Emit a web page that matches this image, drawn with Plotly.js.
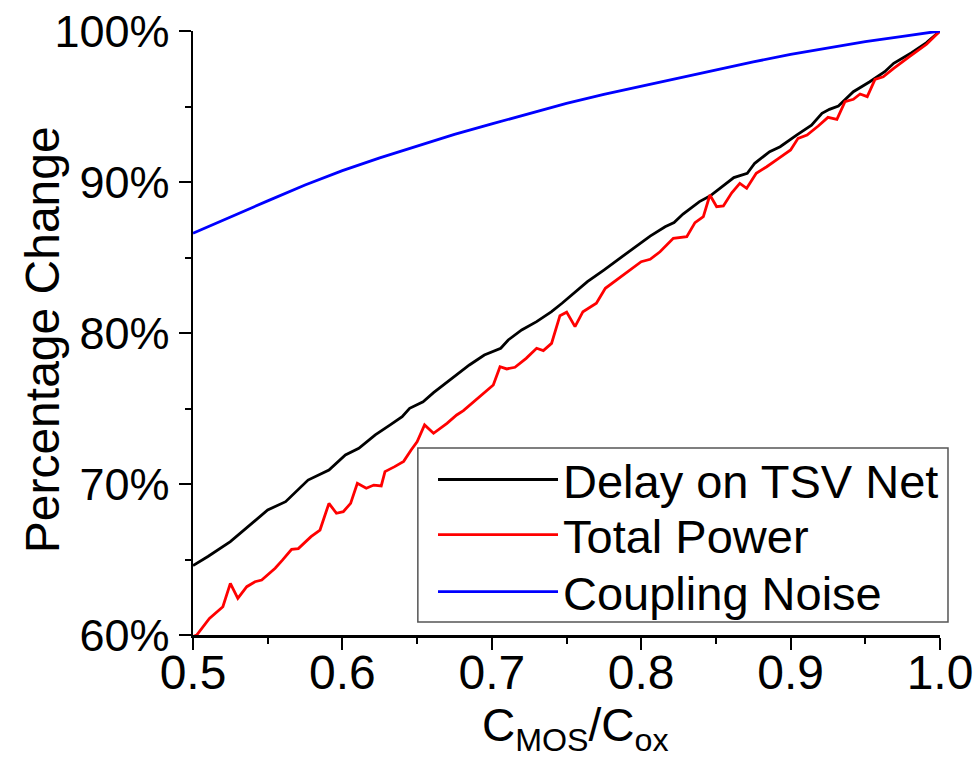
<!DOCTYPE html>
<html>
<head>
<meta charset="utf-8">
<script src="https://cdn.plot.ly/plotly-3.0.1.min.js"></script>
<style>html,body{margin:0;padding:0;background:#fff;}#chart{width:980px;height:767px;}</style>
</head>
<body>
<div id="chart"></div>
<script>
// Delay on TSV Net
var delayX = [0.500,0.510,0.525,0.550,0.562,0.577,0.591,0.602,0.611,0.622,0.632,0.640,0.645,0.654,0.661,0.672,0.685,0.695,0.706,0.711,0.720,0.730,0.740,0.747,0.755,0.764,0.775,0.786,0.795,0.806,0.816,0.822,0.828,0.839,0.846,0.855,0.862,0.871,0.876,0.886,0.893,0.904,0.914,0.921,0.926,0.932,0.942,0.953,0.963,0.969,0.981,0.991,1.000];
var delayY = [64.6,65.2,66.18,68.28,68.83,70.26,70.93,71.92,72.36,73.25,73.91,74.46,75.01,75.45,76.05,76.89,77.88,78.54,78.99,79.54,80.2,80.75,81.41,81.97,82.63,83.4,84.17,84.95,85.61,86.42,87.04,87.31,87.88,88.7,89.07,89.74,90.29,90.58,91.24,92.01,92.34,93.11,93.77,94.55,94.81,95.03,95.98,96.64,97.3,97.86,98.56,99.23,100];
// Total Power
var powerX = [0.500,0.5025,0.511,0.520,0.525,0.530,0.536,0.5415,0.546,0.555,0.560,0.566,0.5705,0.579,0.585,0.591,0.596,0.6006,0.6055,0.610,0.616,0.621,0.626,0.6285,0.635,0.641,0.646,0.650,0.655,0.661,0.670,0.6765,0.681,0.6865,0.694,0.701,0.7055,0.710,0.7155,0.723,0.730,0.7345,0.740,0.7456,0.7501,0.7557,0.761,0.770,0.776,0.781,0.790,0.800,0.806,0.8126,0.8215,0.8305,0.836,0.8416,0.846,0.8505,0.855,0.8606,0.866,0.8706,0.877,0.884,0.892,0.900,0.905,0.911,0.9185,0.925,0.931,0.9364,0.942,0.9465,0.9513,0.9565,0.962,0.969,0.980,0.991,1.000];
var powerY = [59.9,60.0,61.1,61.87,63.42,62.43,63.2,63.53,63.64,64.42,64.97,65.67,65.72,66.51,66.95,68.72,68.06,68.17,68.72,70.05,69.72,69.93,69.87,70.82,71.15,71.5,72.25,72.8,73.91,73.36,74.02,74.57,74.86,75.34,76.01,76.56,77.77,77.62,77.73,78.32,78.99,78.83,79.31,81.15,81.38,80.42,81.41,81.97,82.96,83.33,83.95,84.72,84.88,85.38,86.27,86.38,87.31,87.7,89.14,88.36,88.41,89.29,89.91,89.58,90.58,91.01,91.57,92.12,92.89,93.11,93.71,94.28,94.15,95.32,95.48,95.83,95.65,96.8,96.97,97.53,98.34,99.12,100];
// Coupling Noise
var noiseX = [0.500,0.525,0.550,0.575,0.600,0.625,0.650,0.675,0.700,0.725,0.750,0.775,0.800,0.825,0.850,0.875,0.900,0.925,0.950,0.975,1.000];
var noiseY = [86.6,87.7,88.75,89.8,90.75,91.6,92.4,93.15,93.85,94.55,95.2,95.8,96.35,96.85,97.4,97.95,98.45,98.9,99.3,99.65,100];

var seriesNames = ['Delay on TSV Net','Total Power','Coupling Noise'];
var xTicks = [0.5,0.6,0.7,0.8,0.9,1.0];
var xTickText = ['0.5','0.6','0.7','0.8','0.9','1.0'];
var yTicks = [60,70,80,90,100];
var yTickText = ['60%','70%','80%','90%','100%'];
var xTitle = 'C<sub>MOS</sub>/C<sub>ox</sub>';
var yTitle = 'Percentage Change';

var FONT = 'Liberation Sans, Arial, sans-serif';

var traces = [
  {x: delayX, y: delayY, name: seriesNames[0], mode: 'lines', legend: 'legend', line: {color: '#000000', width: 2.8}},
  {x: powerX, y: powerY, name: seriesNames[1], mode: 'lines', legend: 'legend2', line: {color: '#ff0000', width: 2.8}},
  {x: noiseX, y: noiseY, name: seriesNames[2], mode: 'lines', legend: 'legend3', line: {color: '#0000ff', width: 2.8}}
];

function legendAt(yc) {
  return {
    x: 0.3213, y: yc, xanchor: 'left', yanchor: 'middle',
    bgcolor: 'rgba(0,0,0,0)', borderwidth: 0,
    font: {family: FONT, size: 47, color: '#000'},
    itemwidth: 120
  };
}

var layout = {
  width: 980, height: 767,
  margin: {l: 193, r: 40, t: 31, b: 132, pad: 0},
  paper_bgcolor: '#ffffff', plot_bgcolor: '#ffffff',
  showlegend: true,
  legend: legendAt(0.2567),
  legend2: legendAt(0.1656),
  legend3: legendAt(0.0712),
  shapes: [
    {type: 'rect', xref: 'paper', yref: 'paper', x0: 0.301, x1: 1.0107, y0: 0.0215, y1: 0.3096,
     line: {color: '#555555', width: 1.5}, fillcolor: '#ffffff', layer: 'above'}
  ],
  annotations: [
    {text: yTitle, xref: 'paper', yref: 'paper', x: -0.2021, y: 0.488, xanchor: 'center', yanchor: 'middle',
     textangle: -90, showarrow: false, font: {family: FONT, size: 48, color: '#000'}},
    {text: xTitle, xref: 'paper', yref: 'paper', x: 0.512, y: -0.103, xanchor: 'center', yanchor: 'top',
     showarrow: false, font: {family: FONT, size: 46, color: '#000'}}
  ],
  xaxis: {
    range: [0.5, 1.0], tickvals: xTicks, ticktext: xTickText,
    showgrid: false, zeroline: false, showline: true, linecolor: '#000', linewidth: 2.5,
    ticks: 'outside', ticklen: 12, tickwidth: 2, tickcolor: '#000',
    ticklabelstandoff: -18,
    minor: {tickvals: [0.55,0.65,0.75,0.85,0.95], ticks: 'outside', ticklen: 6, tickwidth: 2, tickcolor: '#000'},
    tickfont: {family: FONT, size: 48, color: '#000'}
  },
  yaxis: {
    range: [60, 100], tickvals: yTicks, ticktext: yTickText,
    showgrid: false, zeroline: false, showline: true, linecolor: '#000', linewidth: 2.5,
    ticks: 'outside', ticklen: 12, tickwidth: 2, tickcolor: '#000',
    minor: {tickvals: [65,75,85,95], ticks: 'outside', ticklen: 6, tickwidth: 2, tickcolor: '#000'},
    tickfont: {family: FONT, size: 45, color: '#000'}
  }
};

Plotly.newPlot('chart', traces, layout, {displayModeBar: false, staticPlot: true});
</script>
</body>
</html>
